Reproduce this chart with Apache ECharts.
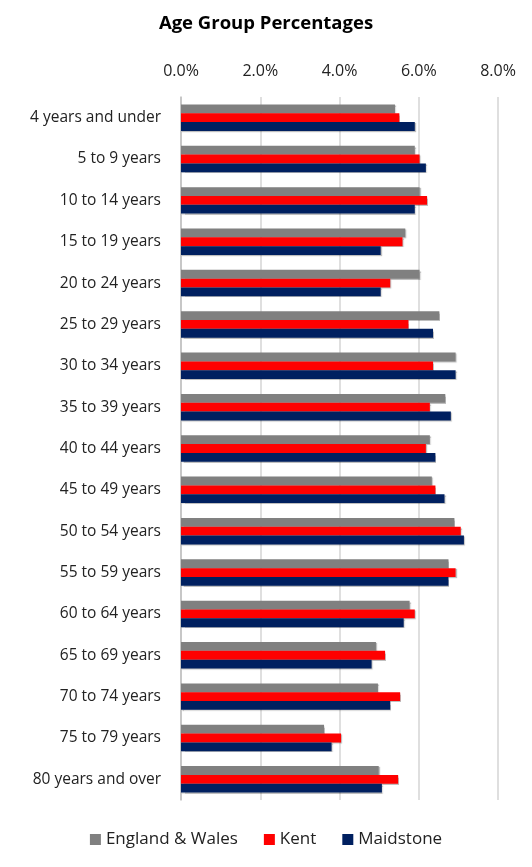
<!DOCTYPE html>
<html>
<head>
<meta charset="utf-8">
<script src="https://cdn.jsdelivr.net/npm/echarts@6/dist/echarts.min.js"></script>
<style>
  html, body { margin: 0; padding: 0; background: #fff; }
  #chart { width: 532px; height: 867px; }
</style>
</head>
<body>
<div id="chart"></div>
<script>
const ageGroups = [
  "4 years and under", "5 to 9 years", "10 to 14 years", "15 to 19 years",
  "20 to 24 years", "25 to 29 years", "30 to 34 years", "35 to 39 years",
  "40 to 44 years", "45 to 49 years", "50 to 54 years", "55 to 59 years",
  "60 to 64 years", "65 to 69 years", "70 to 74 years", "75 to 79 years",
  "80 years and over"
];
const englandWales = [5.40, 5.90, 6.02, 5.66, 6.02, 6.52, 6.93, 6.67, 6.28, 6.33, 6.90, 6.75, 5.77, 4.92, 4.97, 3.61, 4.99];
const kent = [5.51, 6.02, 6.21, 5.59, 5.28, 5.74, 6.36, 6.28, 6.18, 6.42, 7.06, 6.93, 5.90, 5.15, 5.53, 4.04, 5.48];
const maidstone = [5.90, 6.18, 5.90, 5.04, 5.04, 6.36, 6.93, 6.81, 6.42, 6.65, 7.14, 6.75, 5.62, 4.81, 5.28, 3.80, 5.07];

const font = "'Open Sans', 'Liberation Sans', sans-serif";
const chart = echarts.init(document.getElementById("chart"));

function bar(name, data, color) {
  return {
    name: name,
    type: "bar",
    data: data,
    barGap: "0%",
    barCategoryGap: "36%",
    itemStyle: {
      color: color,
      shadowColor: "rgba(0,0,0,0.25)",
      shadowOffsetX: 1,
      shadowOffsetY: 1,
      shadowBlur: 1
    }
  };
}

chart.setOption({
  animation: false,
  textStyle: { fontFamily: font },
  title: {
    text: "Age Group Percentages",
    left: "center",
    top: 9,
    textStyle: { fontFamily: font, fontSize: 18.5, fontWeight: "bold", color: "#000" }
  },
  legend: {
    bottom: 14,
    left: "center",
    itemWidth: 11,
    itemHeight: 11,
    itemGap: 26,
    icon: "rect",
    textStyle: { fontFamily: font, fontSize: 17, color: "#222" },
    data: ["England & Wales", "Kent", "Maidstone"]
  },
  grid: { left: 181, right: 34, top: 97, bottom: 67, containLabel: false },
  xAxis: {
    type: "value",
    position: "top",
    min: 0,
    max: 8,
    interval: 2,
    axisLine: { show: false },
    axisTick: { show: false },
    splitLine: { lineStyle: { color: "#d4d4d4", width: 1.5 } },
    axisLabel: {
      formatter: v => v.toFixed(1) + "%",
      fontFamily: font, fontSize: 16, color: "#222", margin: 18
    }
  },
  yAxis: {
    type: "category",
    inverse: true,
    data: ageGroups,
    axisLine: { lineStyle: { color: "#bfbfbf", width: 1.5 } },
    axisTick: { show: false },
    axisLabel: { fontFamily: font, fontSize: 15.5, color: "#222", margin: 20 }
  },
  series: [
    bar("England & Wales", englandWales, "#808080"),
    bar("Kent", kent, "#ff0000"),
    bar("Maidstone", maidstone, "#002060")
  ]
});
</script>
</body>
</html>
